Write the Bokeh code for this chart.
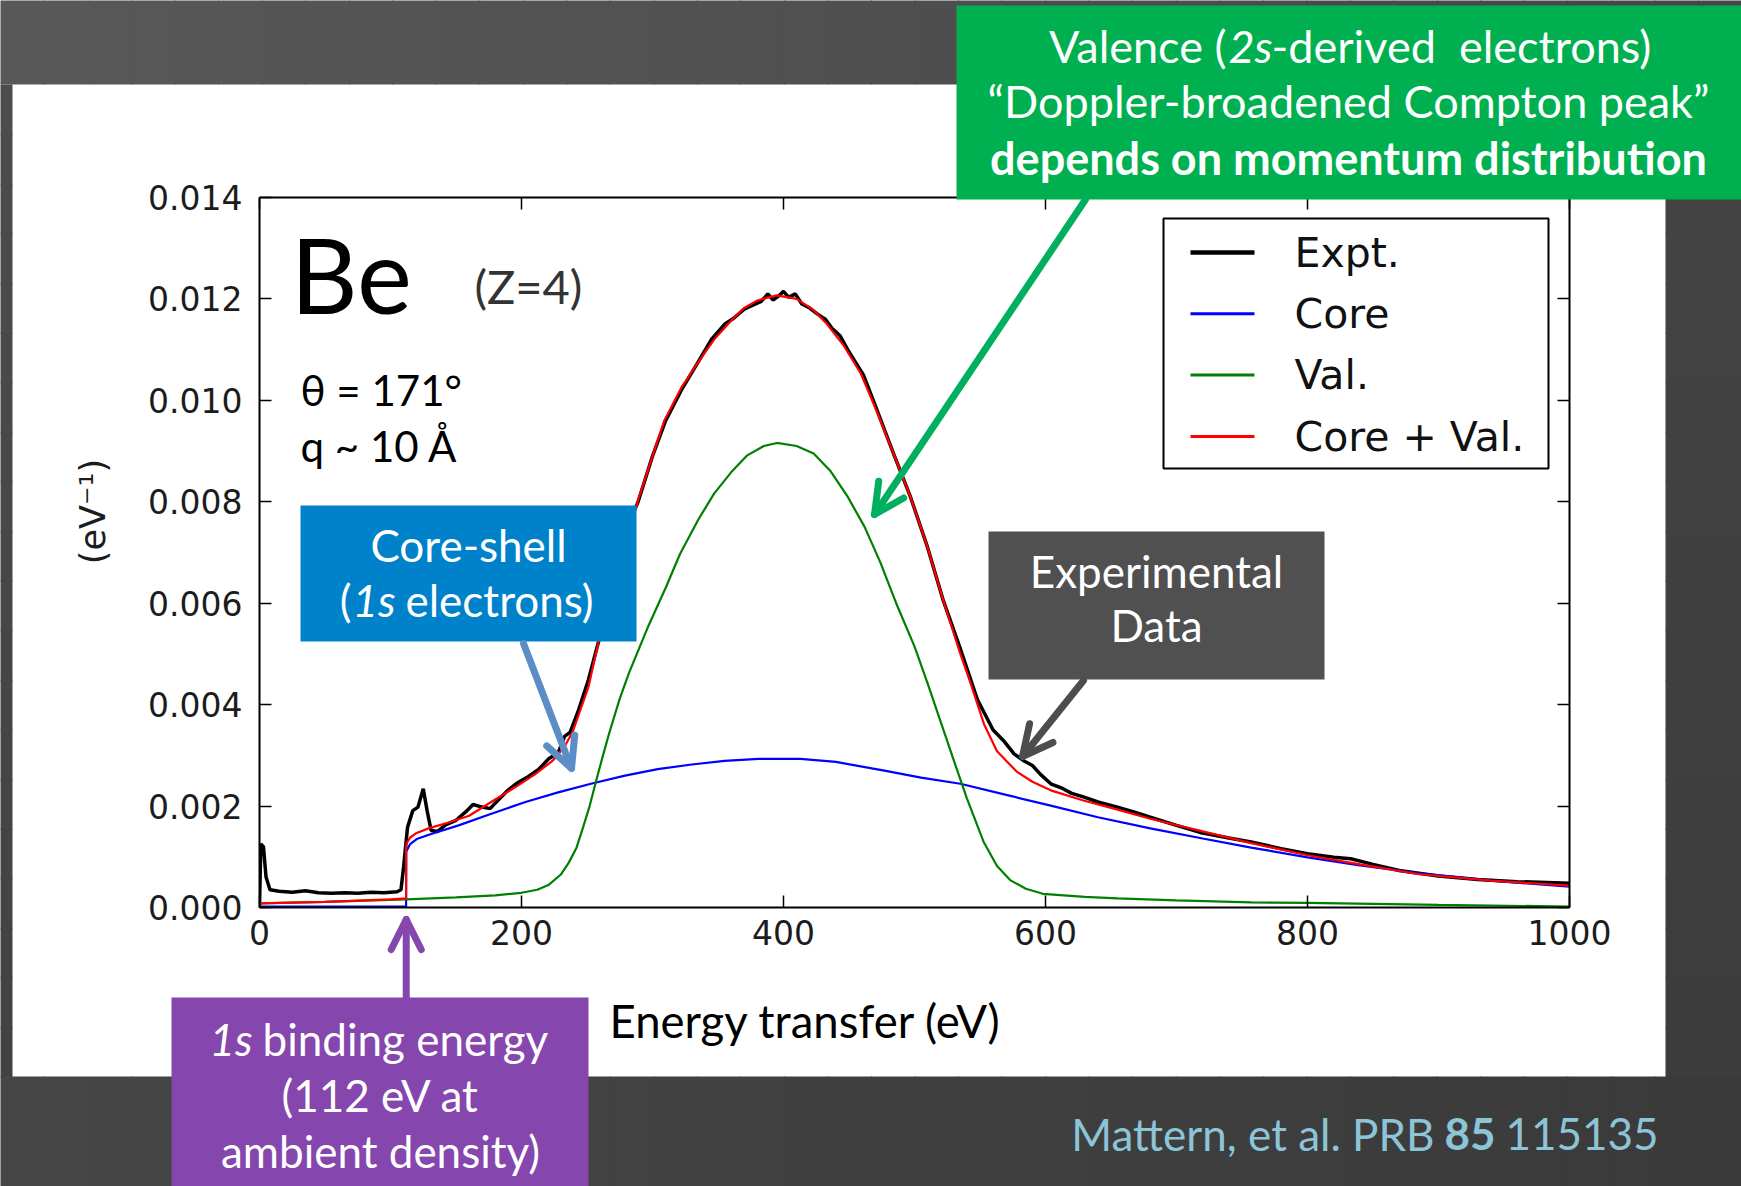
import math

from bokeh.plotting import figure
from bokeh.models import (Range1d, LinearAxis, FixedTicker, PrintfTickFormatter,
                          CustomJSTickFormatter)
from bokeh.core.properties import value
from bokeh.embed import file_html
from bokeh.resources import INLINE

# ---------------- data (energy transfer in eV, intensity in 1/eV) ----------------
expt_e = [0, 1, 3, 5, 8, 15, 25, 35, 45, 55, 65, 75, 85, 95, 105, 108, 110, 113, 117,
          121, 125, 128, 131, 136, 142, 150, 158, 163, 170, 176, 183, 190, 197, 205,
          213, 221, 228, 233, 237, 243, 251, 259, 268, 280, 289, 300, 310, 322, 334,
          345, 355, 362, 370, 377, 383, 388, 392, 396, 400, 404, 409, 414, 420, 426,
          432, 437, 443, 449, 455, 461, 470, 484, 497, 510, 522, 535, 548, 560, 568,
          576, 583, 590, 596, 604, 612, 620, 629, 640, 655, 668, 680, 700, 718, 740,
          757, 780, 800, 820, 833, 850, 870, 900, 930, 960, 1000]
expt_v = [0.00000, 0.00125, 0.00120, 0.00060, 0.00035, 0.00032, 0.00030, 0.00033,
          0.00029, 0.00028, 0.00029, 0.00028, 0.00030, 0.00029, 0.00031, 0.00035,
          0.00080, 0.00158, 0.00191, 0.00198, 0.00234, 0.00190, 0.00152, 0.00150,
          0.00163, 0.00172, 0.00190, 0.00203, 0.00198, 0.00195, 0.00214, 0.00232,
          0.00246, 0.00258, 0.00272, 0.00294, 0.00305, 0.00338, 0.00345, 0.00385,
          0.00448, 0.00526, 0.00610, 0.00745, 0.00800, 0.00890, 0.00960, 0.01020,
          0.01072, 0.01120, 0.01150, 0.01162, 0.01180, 0.01188, 0.01195, 0.01210,
          0.01198, 0.01205, 0.01215, 0.01203, 0.01210, 0.01190, 0.01182, 0.01170,
          0.01160, 0.01142, 0.01128, 0.01100, 0.01075, 0.01050, 0.00990, 0.00895,
          0.00809, 0.00710, 0.00605, 0.00510, 0.00410, 0.00350, 0.00329, 0.00303,
          0.00290, 0.00280, 0.00263, 0.00244, 0.00236, 0.00225, 0.00218, 0.00208,
          0.00198, 0.00188, 0.00178, 0.00162, 0.00148, 0.00137, 0.00129, 0.00116,
          0.00106, 0.00099, 0.00096, 0.00085, 0.00073, 0.00062, 0.00055, 0.00051,
          0.00048]

core_e = [0, 111.9, 112, 115, 120, 131, 152, 177, 203, 228, 253, 279, 304, 330, 355,
          381, 413, 440, 477, 505, 535, 570, 604, 640, 680, 720, 757, 800, 840, 884,
          940, 1000]
core_v = [0.00002, 0.00002, 0.00110, 0.00125, 0.00135, 0.00145, 0.00162, 0.00185,
          0.00208, 0.00227, 0.00244, 0.00260, 0.00273, 0.00282, 0.00289, 0.00293,
          0.00293, 0.00287, 0.00270, 0.00256, 0.00244, 0.00222, 0.00201, 0.00178,
          0.00156, 0.00136, 0.00118, 0.00099, 0.00083, 0.00068, 0.00053, 0.00041]

val_e = [0, 50, 112, 150, 180, 200, 212, 221, 230, 236, 242, 247, 252, 257, 262, 267,
         275, 282, 296, 310, 321, 335, 347, 360, 372, 385, 395, 410, 423, 436, 449,
         462, 474, 486, 500, 510, 520, 530, 540, 553, 563, 573, 585, 598, 630, 655,
         700, 757, 800, 900, 1000]
val_v = [0.00008, 0.00011, 0.00016, 0.00020, 0.00024, 0.00029, 0.00035, 0.00045,
         0.00065, 0.00088, 0.00118, 0.00158, 0.00200, 0.00250, 0.00298, 0.00344,
         0.00412, 0.00462, 0.00550, 0.00630, 0.00697, 0.00765, 0.00816, 0.00858,
         0.00891, 0.00910, 0.00916, 0.00910, 0.00895, 0.00860, 0.00810, 0.00750,
         0.00680, 0.00600, 0.00515, 0.00442, 0.00366, 0.00290, 0.00215, 0.00128,
         0.00082, 0.00054, 0.00037, 0.00027, 0.00021, 0.00018, 0.00014, 0.00010,
         0.00009, 0.00005, 0.00002]

total_e = [0, 50, 100, 111.9, 112, 115, 120, 129, 145, 160, 175, 195, 210, 224, 233,
           239, 245, 251, 259, 270, 280, 289, 300, 309, 322, 334, 347, 360, 370, 380,
           395, 410, 422, 433, 446, 459, 471, 484, 497, 510, 522, 535, 543, 553, 563,
           578, 590, 604, 629, 655, 680, 720, 757, 800, 840, 884, 940, 1000]
total_v = [0.00008, 0.00011, 0.00016, 0.00018, 0.00125, 0.00138, 0.00147, 0.00156,
           0.00168, 0.00181, 0.00205, 0.00237, 0.00262, 0.00290, 0.00318, 0.00346,
           0.00390, 0.00434, 0.00526, 0.00625, 0.00720, 0.00803, 0.00890, 0.00960,
           0.01025, 0.01072, 0.01120, 0.01157, 0.01182, 0.01197, 0.01207, 0.01200,
           0.01180, 0.01151, 0.01108, 0.01053, 0.00980, 0.00895, 0.00809, 0.00710,
           0.00605, 0.00500, 0.00441, 0.00362, 0.00308, 0.00268, 0.00248, 0.00231,
           0.00211, 0.00193, 0.00175, 0.00150, 0.00127, 0.00103, 0.00085, 0.00066,
           0.00053, 0.00043]

x_ticks = [0, 200, 400, 600, 800, 1000]
y_ticks = [0.000, 0.002, 0.004, 0.006, 0.008, 0.010, 0.012, 0.014]
series_labels = ["Expt.", "Core", "Val.", "Core + Val."]
series_colors = ["black", "#0000ff", "#008000", "#ff0000"]
series_widths = [3.5, 2.2, 2.2, 2.2]
binding_energy = 112

# ---------------- page geometry ----------------
W, H = 1741, 1186
FL, FR, FT, FB = 259, 1569, 197, 907
XMAX, YMAX = 1000, 0.014


def dx(px):
    return (px - FL) / (FR - FL) * XMAX


def dy(py):
    return (FB - py) / (FB - FT) * YMAX


def px_of(x):
    return FL + x / XMAX * (FR - FL)


p = figure(width=W, height=H, output_backend="svg", toolbar_location=None,
           x_range=Range1d(0, XMAX), y_range=Range1d(0, YMAX),
           min_border_left=FL, min_border_right=W - FR,
           min_border_top=FT, min_border_bottom=H - FB,
           background_fill_color="white", border_fill_color="white",
           outline_line_color=None)
p.grid.visible = False

AX_FONT = "DejaVu Sans"
TICK_COLOR = "#1c1c1c"


def style_axis(ax, ticks, show_labels):
    ax.ticker = FixedTicker(ticks=ticks)
    ax.axis_line_width = 2
    ax.axis_line_color = "black"
    ax.major_tick_in = 12
    ax.major_tick_out = 0
    ax.major_tick_line_width = 1.5
    ax.minor_tick_in = 0
    ax.minor_tick_out = 0
    ax.major_label_text_font = AX_FONT
    ax.major_label_text_font_size = "33px"
    ax.major_label_text_color = TICK_COLOR
    if not show_labels:
        ax.formatter = CustomJSTickFormatter(code="return ''")
        ax.major_label_standoff = 0


style_axis(p.xaxis[0], x_ticks, True)
p.xaxis[0].major_label_standoff = 12
style_axis(p.yaxis[0], y_ticks, True)
p.yaxis[0].formatter = PrintfTickFormatter(format="%.3f")
p.yaxis[0].major_label_standoff = 17

top_axis = LinearAxis()
style_axis(top_axis, x_ticks, False)
p.add_layout(top_axis, "above")
right_axis = LinearAxis()
style_axis(right_axis, y_ticks, False)
p.add_layout(right_axis, "right")

# ---------------- spectra ----------------
for (xs, ys), c, w in zip([(expt_e, expt_v), (core_e, core_v), (val_e, val_v),
                           (total_e, total_v)], series_colors, series_widths):
    p.line(xs, ys, line_color=c, line_width=w)

# ---------------- text helper ----------------
MID = {"Lato": 0.387, "DejaVu Sans": 0.346}


def txt(px, baseline, s, size, color="white", align="left", style="normal", font="Lato"):
    p.text(x=[dx(px)], y=[dy(baseline - MID[font] * size)], text=[s],
           text_font=value(font), text_font_size=f"{size}px", text_color=color,
           text_align=align, text_baseline="middle", text_font_style=style,
           level="overlay")


# ---------------- legend ----------------
LEG_L, LEG_R, LEG_T, LEG_B = 1163, 1548, 218, 468
p.quad(left=[dx(LEG_L)], right=[dx(LEG_R)], top=[dy(LEG_T)], bottom=[dy(LEG_B)],
       fill_color="white", line_color="black", line_width=2, level="overlay")
for i, (lab, c, w) in enumerate(zip(series_labels, series_colors, series_widths)):
    row = 252 + i * 61.3
    p.line([dx(1190), dx(1254)], [dy(row), dy(row)], line_color=c,
           line_width=w + 0.8, level="overlay")
    txt(1294, row + 14.5, lab, 41, color="#111111", font=AX_FONT)

# y axis title
p.text(x=[dx(92)], y=[dy(511)], text=["(eV\u207b\u00b9)"], angle=math.pi / 2,
       text_font=value(AX_FONT), text_font_size="35px", text_color=TICK_COLOR,
       text_align="center", text_baseline="middle", level="overlay")

# ---------------- slide frame (dark surround) ----------------
def shade(c0, c1, t):
    return "#%02x%02x%02x" % tuple(int(round(a + (b - a) * t)) for a, b in zip(c0, c1))


def gradient_band(x0, x1, y0, y1, c0, c1, n, horizontal=True):
    lefts, rights, tops, bottoms, colors = [], [], [], [], []
    for i in range(n):
        t = i / (n - 1)
        if horizontal:
            a = x0 + (x1 - x0) * i / n
            b = x0 + (x1 - x0) * (i + 1) / n + 1
            lefts.append(dx(a)); rights.append(dx(b))
            tops.append(dy(y0)); bottoms.append(dy(y1))
        else:
            a = y0 + (y1 - y0) * i / n
            b = y0 + (y1 - y0) * (i + 1) / n + 1
            lefts.append(dx(x0)); rights.append(dx(x1))
            tops.append(dy(a)); bottoms.append(dy(b))
        colors.append(shade(c0, c1, t))
    p.quad(left=lefts, right=rights, top=tops, bottom=bottoms, fill_color=colors,
           line_color=None, level="overlay")


gradient_band(0, W, 0, 84, (88, 88, 88), (70, 70, 70), 40)
gradient_band(0, 12, 84, 1076, (76, 76, 76), (66, 66, 66), 20, horizontal=False)
gradient_band(1665, W, 84, 1076, (68, 68, 68), (60, 60, 60), 20, horizontal=False)
gradient_band(0, W, 1076, H, (70, 70, 70), (58, 58, 58), 40)

# ---------------- callout boxes ----------------
GREEN, BLUE, GREY, PURPLE = "#00b050", "#0082ca", "#505050", "#8547ad"
boxes = [(956, 1741, 5, 199, GREEN),
         (300, 636, 505, 641, BLUE),
         (988, 1324, 531, 679, GREY),
         (171, 588, 997, H, PURPLE)]
p.quad(left=[dx(b[0]) for b in boxes], right=[dx(b[1]) for b in boxes],
       top=[dy(b[2]) for b in boxes], bottom=[dy(b[3]) for b in boxes],
       fill_color=[b[4] for b in boxes], line_color=None, level="overlay")


# ---------------- arrows (shaft + open head) ----------------
def arrow(x0, y0, x1, y1, color, head=30, width=7):
    ux, uy = x1 - x0, y1 - y0
    n = math.hypot(ux, uy)
    ux, uy = ux / n, uy / n
    bx, by = x1 - head * ux, y1 - head * uy
    w1 = (bx - 0.5 * head * uy, by + 0.5 * head * ux)
    w2 = (bx + 0.5 * head * uy, by - 0.5 * head * ux)
    p.multi_line(xs=[[dx(x0), dx(x1)], [dx(w1[0]), dx(x1), dx(w2[0])]],
                 ys=[[dy(y0), dy(y1)], [dy(w1[1]), dy(y1), dy(w2[1])]],
                 line_color=color, line_width=width, line_cap="round",
                 line_join="round", level="overlay")


arrow(1085, 199, 874, 514, "#00b060")
arrow(523, 643, 571, 768, "#5b8dc6")
arrow(1083, 680, 1022, 756, "#4d4d4d")
arrow(px_of(binding_energy), 997, px_of(binding_energy), 919, PURPLE)

# green callout
txt(1226, 63, "Valence (", 45, align="right")
txt(1228, 63, "2s", 45, style="italic")
txt(1271, 63, "-derived\u00a0 electrons)", 45)
txt(1348, 118, "\u201cDoppler-broadened Compton peak\u201d", 45, align="center")
txt(1348, 175, "depends on momentum distribution", 45, align="center", style="bold")

# blue callout
txt(468, 562, "Core-shell", 44, align="center")
txt(351, 617, "(", 44, align="right")
txt(352, 617, "1s", 44, style="italic")
txt(405, 617, "electrons)", 44)

# grey callout
txt(1156, 588, "Experimental", 44, align="center")
txt(1156, 642, "Data", 44, align="center")

# purple callout
txt(209, 1056, "1s", 44, style="italic")
txt(262, 1056, "binding energy", 44)
txt(380, 1112, "(112 eV at", 44, align="center")
txt(380, 1168, "ambient density)", 44, align="center")

# panel annotations
txt(290, 313, "Be", 104, color="black")
txt(474, 304, "(Z=4)", 47, color="#333333")
txt(300, 406, "\u03b8 = 171\u00b0", 42, color="black")
txt(300, 462, "q ~ 10 \u00c5", 42, color="black")
txt(609, 1038, "Energy transfer (eV)", 45.5, color="black")

# reference line
CITE = "#8cc4d8"
txt(1434, 1151, "Mattern, et al. PRB", 44, color=CITE, align="right")
txt(1444, 1151, "85", 44, color=CITE, style="bold")
txt(1505, 1151, "115135", 44, color=CITE)

open("out.html", "w").write(file_html(p, INLINE))
